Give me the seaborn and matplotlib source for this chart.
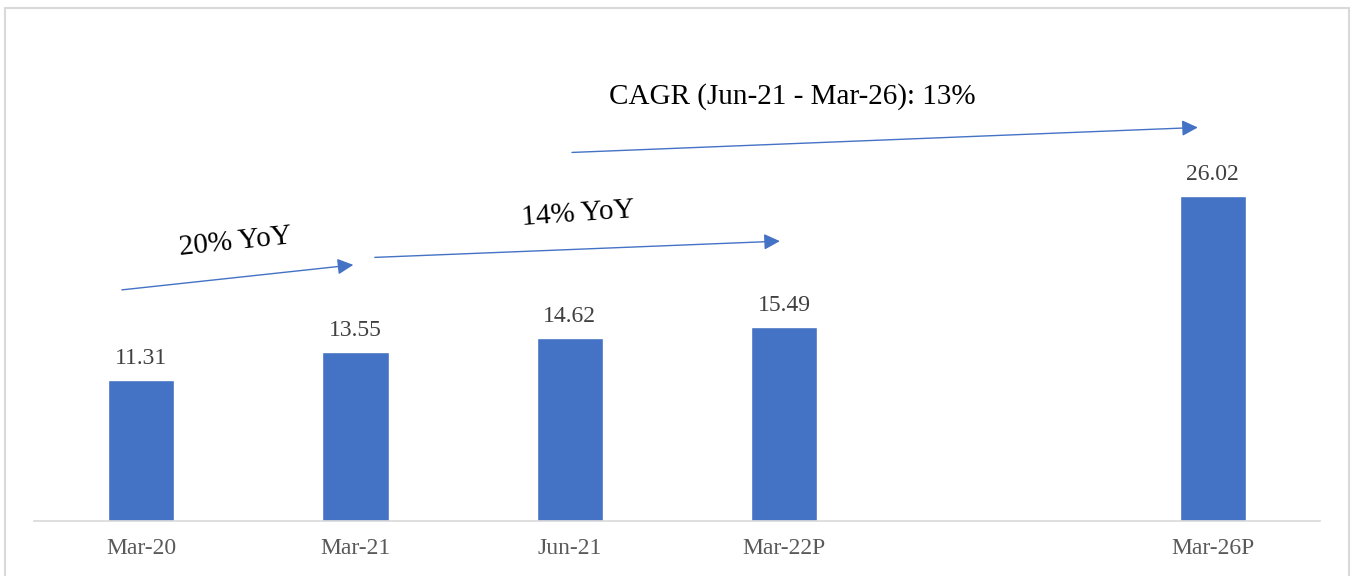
import matplotlib
matplotlib.use("Agg")
import matplotlib.pyplot as plt
import pandas as pd
import seaborn as sns
from matplotlib.lines import Line2D

periods = ["Mar-20", "Mar-21", "Jun-21", "Mar-22P", "Mar-26P"]
values = [11.31, 13.55, 14.62, 15.49, 26.02]
slot_order = ["Mar-20", "Mar-21", "Jun-21", "Mar-22P", " ", "Mar-26P"]

df = pd.DataFrame({"period": periods, "value": values})

sns.set_style("white")
plt.rcParams["font.family"] = ["Liberation Serif", "DejaVu Serif"]

blue = "#4472C4"
fig = plt.figure(figsize=(13.54, 5.76), dpi=100)
ax = fig.add_axes([34 / 1354, 55 / 576, 1286 / 1354, 481 / 576])

sns.barplot(data=df, x="period", y="value", order=slot_order, color=blue,
            width=0.31, saturation=1, ax=ax)

ax.set_xlim(-0.5, 5.5)
ax.set_ylim(0, 38.5)
ax.set_xlabel("")
ax.set_ylabel("")
ax.set_yticks([])
for s in ["top", "right", "left"]:
    ax.spines[s].set_visible(False)
ax.spines["bottom"].set_color("#d9d9d9")
ax.spines["bottom"].set_linewidth(1.2)
ax.tick_params(axis="x", length=0, pad=12, labelsize=17, labelcolor="#595959")

for c in ax.containers:
    ax.bar_label(c, fmt="%.2f", padding=8, fontsize=17, color="#404040")

# growth arrows
arrow_kw = dict(arrowstyle="-|>", color=blue, lw=1.0, mutation_scale=24,
                shrinkA=0, shrinkB=0)
ax.annotate("", xy=(0.99, 20.5), xytext=(-0.09, 18.5), arrowprops=arrow_kw)
ax.annotate("", xy=(2.98, 22.4), xytext=(1.09, 21.1), arrowprops=arrow_kw)
ax.annotate("", xy=(4.93, 31.5), xytext=(2.01, 29.5), arrowprops=arrow_kw)

ax.text(0.44, 22.3, "20% YoY", fontsize=21, rotation=6, ha="center", va="center",
        rotation_mode="anchor", color="black")
ax.text(2.04, 24.6, "14% YoY", fontsize=21, rotation=4, ha="center", va="center",
        rotation_mode="anchor", color="black")
ax.text(3.04, 34.0, "CAGR (Jun-21 - Mar-26): 13%", fontsize=21, ha="center",
        va="center", color="black")

# light frame around the chart
W, H = 1354, 576
fc = "#d9d9d9"
fig.add_artist(Line2D([5 / W, 5 / W], [0, 1 - 8 / H], color=fc, lw=1.5))
fig.add_artist(Line2D([5 / W, 1349 / W], [1 - 8 / H, 1 - 8 / H], color=fc, lw=1.5))
fig.add_artist(Line2D([1349 / W, 1349 / W], [0, 1 - 8 / H], color=fc, lw=1.5))

fig.savefig("out.png", dpi=100)
